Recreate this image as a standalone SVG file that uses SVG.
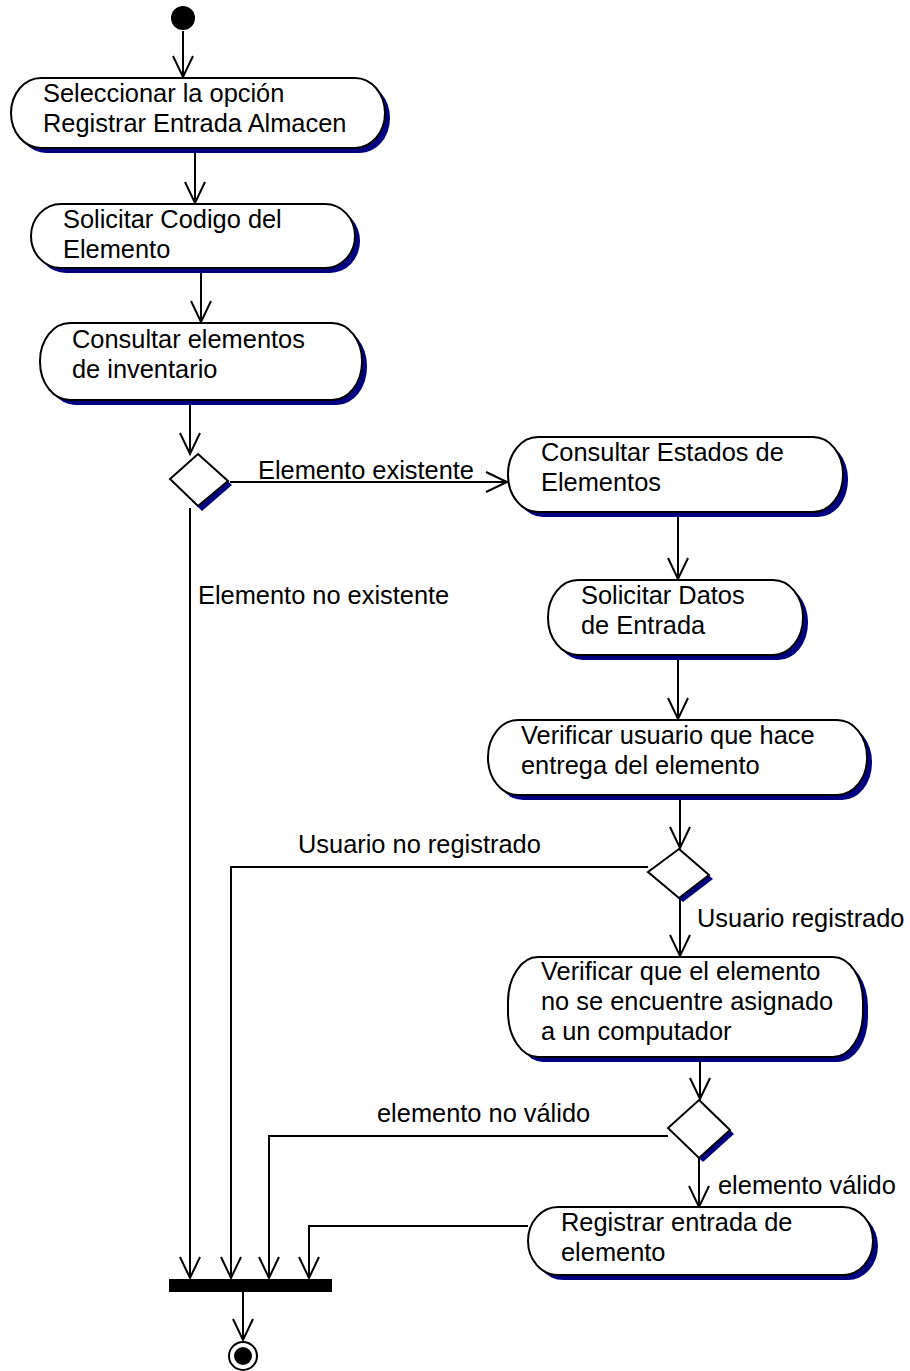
<svg xmlns="http://www.w3.org/2000/svg" width="910" height="1371" viewBox="0 0 910 1371">
<style>
text{font-family:"Liberation Sans",Arial,sans-serif;font-size:25.4px;fill:#000}
.act{fill:#fff;stroke:#000;stroke-width:2}
.sh{fill:#000080}
.dec{fill:#fff;stroke:#000;stroke-width:2}
.c{fill:none;stroke:#000;stroke-width:2}
</style>
<defs>
<marker id="a" markerUnits="userSpaceOnUse" markerWidth="30" markerHeight="30" viewBox="-25 -15 30 30" refX="0" refY="0" orient="auto" overflow="visible">
<path d="M-21,-10 L0,0 L-21,10" fill="none" stroke="#000" stroke-width="2"/>
</marker>
</defs>
<g id="connectors">
<path class="c" d="M183,31 V77" marker-end="url(#a)"/>
<path class="c" d="M195,150 V203" marker-end="url(#a)"/>
<path class="c" d="M201,270 V322" marker-end="url(#a)"/>
<path class="c" d="M190,402 V454" marker-end="url(#a)"/>
<path class="c" d="M230,482 H507" marker-end="url(#a)"/>
<path class="c" d="M190,508 V1278" marker-end="url(#a)"/>
<path class="c" d="M678,514 V579" marker-end="url(#a)"/>
<path class="c" d="M678,657 V719" marker-end="url(#a)"/>
<path class="c" d="M680,797 V848" marker-end="url(#a)"/>
<path class="c" d="M648,867 H231 V1278" marker-end="url(#a)"/>
<path class="c" d="M680,898 V956" marker-end="url(#a)"/>
<path class="c" d="M700,1059 V1099" marker-end="url(#a)"/>
<path class="c" d="M668,1136 H269 V1278" marker-end="url(#a)"/>
<path class="c" d="M699,1158 V1207" marker-end="url(#a)"/>
<path class="c" d="M528,1226 H309 V1278" marker-end="url(#a)"/>
<path class="c" d="M243,1292 V1340" marker-end="url(#a)"/>
</g>
<g id="start"><circle cx="183" cy="18" r="12" fill="#000"/></g>
<g id="n1">
<rect class="sh" x="16" y="83" width="374" height="70" rx="30" ry="35"/>
<rect class="act" x="11" y="78" width="374" height="70" rx="30" ry="35"/>
<text x="43" y="102">Seleccionar la opción</text>
<text x="43" y="132">Registrar Entrada Almacen</text>
</g>
<g id="n2">
<rect class="sh" x="36" y="209" width="324" height="64" rx="30" ry="32"/>
<rect class="act" x="31" y="204" width="324" height="64" rx="30" ry="32"/>
<text x="63" y="228">Solicitar Codigo del</text>
<text x="63" y="258">Elemento</text>
</g>
<g id="n3">
<rect class="sh" x="45" y="328" width="322" height="77" rx="30" ry="38"/>
<rect class="act" x="40" y="323" width="322" height="77" rx="30" ry="38"/>
<text x="72" y="348">Consultar elementos</text>
<text x="72" y="378">de inventario</text>
</g>
<g id="d1">
<polygon class="sh" points="202,458 232,485 202,511 174,483"/>
<polygon class="dec" points="198,454 228,481 198,506 170,479"/>
</g>
<g id="n4">
<rect class="sh" x="513" y="442" width="335" height="75" rx="30" ry="37"/>
<rect class="act" x="508" y="437" width="335" height="75" rx="30" ry="37"/>
<text x="541" y="461">Consultar Estados de</text>
<text x="541" y="491">Elementos</text>
</g>
<g id="n5">
<rect class="sh" x="553" y="585" width="255" height="75" rx="30" ry="37"/>
<rect class="act" x="548" y="580" width="255" height="75" rx="30" ry="37"/>
<text x="581" y="604">Solicitar Datos</text>
<text x="581" y="634">de Entrada</text>
</g>
<g id="n6">
<rect class="sh" x="493" y="725" width="379" height="75" rx="30" ry="37"/>
<rect class="act" x="488" y="720" width="379" height="75" rx="30" ry="37"/>
<text x="521" y="744">Verificar usuario que hace</text>
<text x="521" y="774">entrega del elemento</text>
</g>
<g id="d2">
<polygon class="sh" points="683,853 713,879 683,902 652,876"/>
<polygon class="dec" points="679,849 709,875 679,898 648,872"/>
</g>
<g id="n7">
<rect class="sh" x="513" y="962" width="355" height="100" rx="30" ry="45"/>
<rect class="act" x="508" y="957" width="355" height="100" rx="30" ry="45"/>
<text x="541" y="980">Verificar que el elemento</text>
<text x="541" y="1010">no se encuentre asignado</text>
<text x="541" y="1040">a un computador</text>
</g>
<g id="d3">
<polygon class="sh" points="703,1104 734,1134 703,1162 672,1132"/>
<polygon class="dec" points="699,1100 730,1130 699,1158 668,1128"/>
</g>
<g id="n8">
<rect class="sh" x="533" y="1212" width="345" height="68" rx="30" ry="34"/>
<rect class="act" x="528" y="1207" width="345" height="68" rx="30" ry="34"/>
<text x="561" y="1231">Registrar entrada de</text>
<text x="561" y="1261">elemento</text>
</g>
<g id="join"><rect x="169" y="1279" width="163" height="13" fill="#000"/></g>
<g id="end">
<circle cx="243" cy="1356" r="14" fill="#fff" stroke="#000" stroke-width="2"/>
<circle cx="243" cy="1356" r="9" fill="#000"/>
</g>
<g id="labels">
<text x="258" y="479">Elemento existente</text>
<text x="198" y="604">Elemento no existente</text>
<text x="298" y="853">Usuario no registrado</text>
<text x="697" y="927">Usuario registrado</text>
<text x="377" y="1122">elemento no válido</text>
<text x="718" y="1194">elemento válido</text>
</g>
</svg>
